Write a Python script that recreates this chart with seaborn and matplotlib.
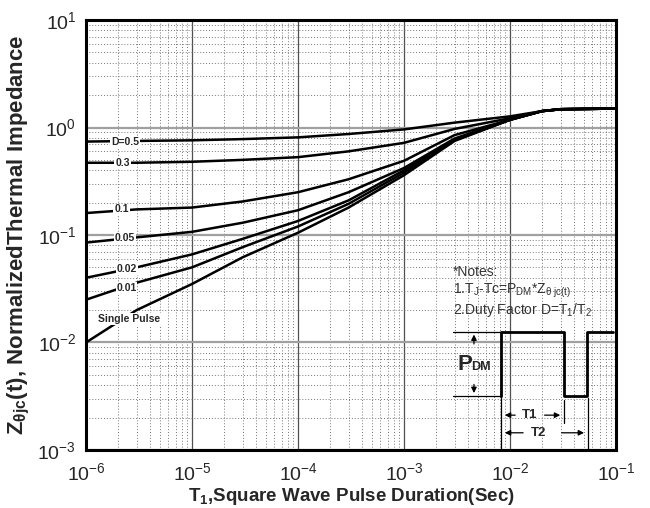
# Transient thermal impedance curves (normalized), log-log

import numpy as np
import pandas as pd
import matplotlib
matplotlib.use("Agg")
import matplotlib.pyplot as plt
from matplotlib.ticker import LogLocator, NullFormatter
import seaborn as sns

t_pulse = [1e-6, 3e-6, 1e-5, 3e-5, 1e-4, 3e-4, 1e-3, 3e-3, 1e-2, 2e-2, 3e-2, 1e-1]

z_d05 = [0.74, 0.75, 0.76, 0.78, 0.81, 0.87, 0.96, 1.11, 1.27, 1.42, 1.48, 1.50]
z_d03 = [0.47, 0.47, 0.48, 0.50, 0.53, 0.60, 0.72, 0.97, 1.22, 1.42, 1.48, 1.50]
z_d01 = [0.16, 0.173, 0.18, 0.205, 0.25, 0.33, 0.49, 0.85, 1.18, 1.42, 1.48, 1.50]
z_d005 = [0.085, 0.095, 0.107, 0.13, 0.17, 0.25, 0.42, 0.79, 1.18, 1.42, 1.48, 1.50]
z_d002 = [0.040, 0.050, 0.066, 0.092, 0.135, 0.21, 0.40, 0.77, 1.18, 1.42, 1.48, 1.50]
z_d001 = [0.025, 0.036, 0.050, 0.077, 0.12, 0.195, 0.38, 0.76, 1.18, 1.42, 1.48, 1.50]
z_single = [0.010, 0.020, 0.035, 0.062, 0.105, 0.18, 0.36, 0.75, 1.18, 1.42, 1.48, 1.50]

curve_names = ["D=0.5", "0.3", "0.1", "0.05", "0.02", "0.01", "Single Pulse"]
curve_values = [z_d05, z_d03, z_d01, z_d005, z_d002, z_d001, z_single]

# where each curve label sits (data coords)
label_x = [2.33e-6, 2.21e-6, 2.16e-6, 2.33e-6, 2.44e-6, 2.41e-6, 2.57e-6]
label_y = [0.733, 0.468, 0.173, 0.094, 0.048, 0.032, 0.0165]

xtick_vals = [1e-6, 1e-5, 1e-4, 1e-3, 1e-2, 1e-1]
ytick_vals = [1e-3, 1e-2, 1e-1, 1e0, 1e1]

rows = []
for name, vals in zip(curve_names, curve_values):
    for t, z in zip(t_pulse, vals):
        rows.append({"t": t, "z": z, "curve": name})
df = pd.DataFrame(rows)

sns.set_style("white")
plt.rcParams["font.family"] = ["Liberation Sans", "DejaVu Sans"]
plt.rcParams["mathtext.fontset"] = "custom"
plt.rcParams["mathtext.rm"] = "Liberation Sans"
plt.rcParams["mathtext.bf"] = "Liberation Sans:bold"
plt.rcParams["mathtext.it"] = "Liberation Sans:italic"

fig = plt.figure(figsize=(6.5, 5.08), dpi=100)
ax = fig.add_axes([0.1323, 0.1142, 0.8154, 0.8464])

sns.lineplot(data=df, x="t", y="z", hue="curve", hue_order=curve_names,
             palette=["black"] * len(curve_names), legend=False,
             linewidth=1.8, ax=ax)

ax.set_xscale("log")
ax.set_yscale("log")
ax.set_xlim(1e-6, 1e-1)
ax.set_ylim(1e-3, 1e1)
ax.set_xticks(xtick_vals)
ax.set_yticks(ytick_vals)
ax.xaxis.set_minor_locator(LogLocator(base=10, subs=np.arange(2, 10), numticks=20))
ax.yaxis.set_minor_locator(LogLocator(base=10, subs=np.arange(2, 10), numticks=20))
ax.xaxis.set_minor_formatter(NullFormatter())
ax.yaxis.set_minor_formatter(NullFormatter())

ax.set_axisbelow(True)
ax.grid(which="minor", color="#777777", lw=0.7, ls=(0, (1, 2)))
ax.grid(which="major", axis="y", color="#a0a0a0", lw=1.6, ls="-")
ax.grid(which="major", axis="x", color="#505050", lw=0.9, ls="-")

ax.tick_params(which="both", length=0)
ax.tick_params(axis="x", labelsize=14, pad=9)
ax.tick_params(axis="y", labelsize=14, pad=7)

for sp in ax.spines.values():
    sp.set_linewidth(2.2)
    sp.set_color("black")

ax.set_xlabel(r"T$_\mathbf{1}$,Square Wave Pulse Duration(Sec)",
              fontsize=13.5, fontweight="bold", labelpad=1)
ax.set_ylabel(r"Z$_\mathbf{θjc}$(t), NormalizedThermal Impedance",
              fontsize=16, fontweight="bold", labelpad=4)

# curve labels with white background cutting the line
for name, lx, ly in zip(curve_names, label_x, label_y):
    ax.text(lx, ly, name, fontsize=7.5, fontweight="bold", ha="center", va="center",
            bbox=dict(facecolor="white", edgecolor="none", pad=0.6), zorder=5)

# notes
note_kw = dict(transform=ax.transAxes, fontsize=10, color="#333333", va="center", ha="left")
ax.text(0.692, 0.415, "*Notes:", **note_kw)
ax.text(0.692, 0.369, r"1.T$_\mathregular{J}$-Tc=P$_\mathregular{DM}$*Z$_\mathregular{θ\ jc(t)}$", **note_kw)
ax.text(0.692, 0.325, r"2.Duty Factor D=T$_\mathregular{1}$/T$_\mathregular{2}$", **note_kw)

# pulse waveform sketch
tr = ax.transAxes
px = [0.783, 0.783, 0.901, 0.901, 0.946, 0.946, 0.994]
py = [0.126, 0.275, 0.275, 0.126, 0.126, 0.275, 0.275]
ax.plot(px, py, color="black", lw=2, transform=tr, zorder=6)
ax.plot([0.692, 0.783], [0.275, 0.275], color="black", lw=0.9, transform=tr, zorder=6)
ax.plot([0.692, 0.783], [0.126, 0.126], color="black", lw=0.9, transform=tr, zorder=6)
ax.plot([0.783, 0.783], [0.126, 0.0], color="black", lw=0.9, transform=tr, zorder=6)
ax.plot([0.902, 0.902], [0.116, 0.063], color="black", lw=0.9, transform=tr, zorder=6)
ax.plot([0.947, 0.947], [0.121, 0.0], color="black", lw=0.9, transform=tr, zorder=6)

arr = dict(arrowstyle="-|>", color="black", lw=0.9, mutation_scale=8)
ax.annotate("", xy=(0.732, 0.275), xytext=(0.732, 0.24), xycoords=tr, textcoords=tr, arrowprops=arr)
ax.annotate("", xy=(0.732, 0.126), xytext=(0.732, 0.159), xycoords=tr, textcoords=tr, arrowprops=arr)
ax.text(0.700, 0.186, "P", transform=tr, fontsize=16, fontweight="bold", ha="left", va="baseline")
ax.text(0.726, 0.186, "DM", transform=tr, fontsize=9, fontweight="bold", ha="left", va="baseline")

ax.annotate("", xy=(0.785, 0.081), xytext=(0.815, 0.081), xycoords=tr, textcoords=tr, arrowprops=arr)
ax.annotate("", xy=(0.900, 0.081), xytext=(0.860, 0.081), xycoords=tr, textcoords=tr, arrowprops=arr)
ax.text(0.836, 0.081, "T1", transform=tr, fontsize=9.5, fontweight="bold", ha="center", va="center")
ax.annotate("", xy=(0.785, 0.040), xytext=(0.830, 0.040), xycoords=tr, textcoords=tr, arrowprops=arr)
ax.annotate("", xy=(0.945, 0.040), xytext=(0.892, 0.040), xycoords=tr, textcoords=tr, arrowprops=arr)
ax.text(0.853, 0.040, "T2", transform=tr, fontsize=9.5, fontweight="bold", ha="center", va="center")

plt.savefig("out.png", dpi=100)
